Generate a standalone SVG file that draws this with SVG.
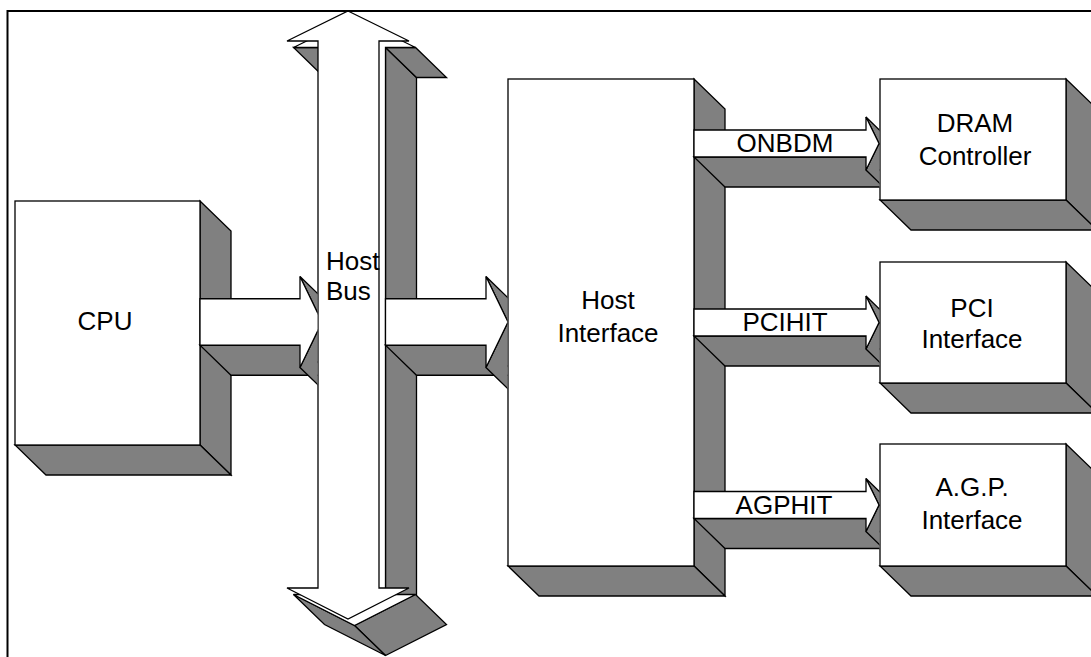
<svg xmlns="http://www.w3.org/2000/svg" width="1091" height="657" viewBox="0 0 1091 657">
<defs>
<style>
.face{fill:#808080;stroke:#000;stroke-width:1.3;stroke-linejoin:miter}
.front{fill:#fff;stroke:#000;stroke-width:1.3}
.lbl{font-family:"Liberation Sans",Arial,Helvetica,sans-serif;font-size:26px;fill:#000}
.mid{text-anchor:middle}
.frame{fill:none;stroke:#000;stroke-width:2}
</style>
<clipPath id="clipCpu"><rect x="0" y="0" width="317.4" height="657"/></clipPath>
<clipPath id="clipHi"><rect x="0" y="0" width="507.4" height="657"/></clipPath>
<clipPath id="clipRight"><rect x="0" y="0" width="879.4" height="657"/></clipPath>
</defs>
<rect width="1091" height="657" fill="#fff"/>

<g id="cpu">
<polygon class="face" points="200,201 231,231 231,475 200,445"/>
<polygon class="face" points="15,445 200,445 231,475 46,475"/>
<rect class="front" x="15" y="201" width="185" height="244"/>
<text class="lbl mid" x="105" y="330">CPU</text>
</g>

<g id="host-bus">
<polygon class="face" points="385.5,47.5 385.5,594.5 416.5,624.5 416.5,77.5"/>
<polygon class="face" points="415.5,47.5 385.5,47.5 416.5,77.5 446.5,77.5"/>
<polygon class="face" points="324.5,47.5 293.5,47.5 324.5,77.5 355.5,77.5"/>
<polygon class="face" points="415.5,594.5 354.5,625.5 385.5,655.5 446.5,624.5"/>
<polygon class="face" points="354.5,625.5 293.5,594.5 324.5,624.5 385.5,655.5"/>
<polygon class="front" points="354.5,17.5 415.5,47.5 385.5,47.5 385.5,594.5 415.5,594.5 354.5,625.5 293.5,594.5 324.5,594.5 324.5,47.5 293.5,47.5"/>
<polygon class="front" points="348,11 409,41 379,41 379,588 409,588 348,619 287,588 318,588 318,41 287,41"/>
<text class="lbl" x="326" y="270">Host</text>
<text class="lbl" x="326" y="300">Bus</text>
</g>

<g id="host-interface">
<polygon class="face" points="694,79 725,109 725,596 694,566"/>
<polygon class="face" points="508,566 694,566 725,596 539,596"/>
<rect class="front" x="508" y="79" width="186" height="487"/>
<text class="lbl mid" x="608" y="309">Host</text>
<text class="lbl mid" x="608" y="342">Interface</text>
</g>

<g id="dram-controller">
<polygon class="face" points="1066,79 1097,109 1097,230 1066,200"/>
<polygon class="face" points="880,200 1066,200 1097,230 911,230"/>
<rect class="front" x="880" y="79" width="186" height="121"/>
<text class="lbl mid" x="975" y="132">DRAM</text>
<text class="lbl mid" x="975" y="165">Controller</text>
</g>

<g id="pci-interface">
<polygon class="face" points="1066,262 1097,292 1097,413 1066,383"/>
<polygon class="face" points="880,383 1066,383 1097,413 911,413"/>
<rect class="front" x="880" y="262" width="186" height="121"/>
<text class="lbl mid" x="972" y="317">PCI</text>
<text class="lbl mid" x="972" y="348">Interface</text>
</g>

<g id="agp-interface">
<polygon class="face" points="1066,444 1097,474 1097,596 1066,566"/>
<polygon class="face" points="880,566 1066,566 1097,596 911,596"/>
<rect class="front" x="880" y="444" width="186" height="122"/>
<text class="lbl mid" x="972" y="496">A.G.P.</text>
<text class="lbl mid" x="972" y="529">Interface</text>
</g>

<g id="connectors">
<g id="cpu-to-bus" clip-path="url(#clipCpu)">
<polygon class="face" points="200,345.25 300,345.25 331,375.25 231,375.25"/>
<polygon class="face" points="300,276.5 322,322 353,352 331,306.5"/>
<polygon class="face" points="322,322 300,367.5 331,397.5 353,352"/>
<polygon class="front" points="200,298.75 300,298.75 300,276.5 322,322 300,367.5 300,345.25 200,345.25"/>
</g>
<g id="bus-to-host-interface" clip-path="url(#clipHi)">
<polygon class="face" points="385.5,345.25 486,345.25 517,375.25 416.5,375.25"/>
<polygon class="face" points="486,276.5 508,322 539,352 517,306.5"/>
<polygon class="face" points="508,322 486,367.5 517,397.5 539,352"/>
<polygon class="front" points="385.5,298.75 486,298.75 486,276.5 508,322 486,367.5 486,345.25 385.5,345.25"/>
</g>
<g id="onbdm" clip-path="url(#clipRight)">
<polygon class="face" points="694,157 866,157 897,187 725,187"/>
<polygon class="face" points="866,117 879,143.5 910,173.5 897,147"/>
<polygon class="face" points="879,143.5 866,170 897,200 910,173.5"/>
<polygon class="front" points="694,130 866,130 866,117 879,143.5 866,170 866,157 694,157"/>
<text class="lbl mid" x="785" y="152">ONBDM</text>
</g>
<g id="pcihit" clip-path="url(#clipRight)">
<polygon class="face" points="694,336 866,336 897,366 725,366"/>
<polygon class="face" points="866,296 879,322.5 910,352.5 897,326"/>
<polygon class="face" points="879,322.5 866,349 897,379 910,352.5"/>
<polygon class="front" points="694,309 866,309 866,296 879,322.5 866,349 866,336 694,336"/>
<text class="lbl mid" x="785" y="331">PCIHIT</text>
</g>
<g id="agphit" clip-path="url(#clipRight)">
<polygon class="face" points="694,518.5 866,518.5 897,548.5 725,548.5"/>
<polygon class="face" points="866,478.5 879,505 910,535 897,508.5"/>
<polygon class="face" points="879,505 866,531.5 897,561.5 910,535"/>
<polygon class="front" points="694,491.5 866,491.5 866,478.5 879,505 866,531.5 866,518.5 694,518.5"/>
<text class="lbl mid" x="784" y="514">AGPHIT</text>
</g>
</g>

<path class="frame" d="M7.5,657 V11 H1091"/>
</svg>
